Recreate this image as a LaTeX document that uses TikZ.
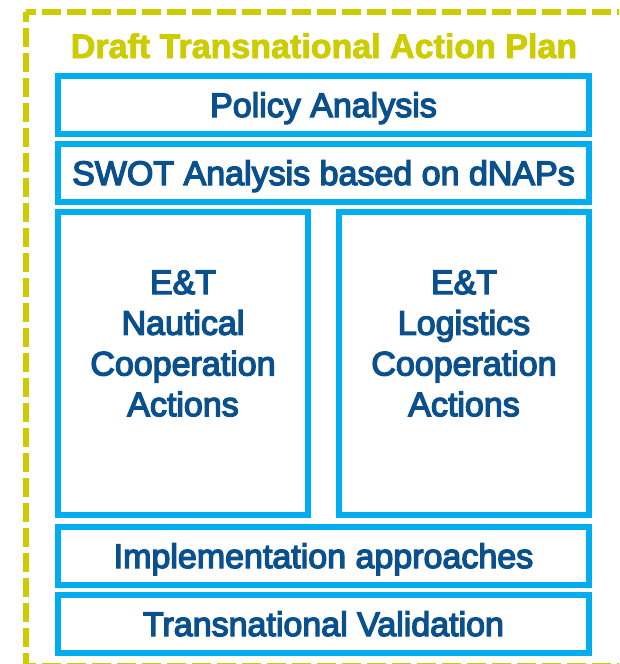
\documentclass[tikz,border=0pt]{standalone}
\usepackage{fontspec}
\setmainfont{Liberation Sans}
\newfontface\boxfont{Liberation Sans}[RawFeature={embolden=4}]
\newfontface\headfont{Liberation Sans Bold}[RawFeature={embolden=2.5}]
\usetikzlibrary{positioning}
\definecolor{planyellow}{RGB}{204,204,0}
\definecolor{barblue}{RGB}{0,174,239}
\definecolor{inkblue}{RGB}{10,80,140}
\tikzset{
  draft/.style={draw=planyellow,line width=6.5pt,dash pattern=on 19pt off 6pt,dash phase=9pt},
  headline/.style={text=planyellow,anchor=base,inner sep=0pt,font=\headfont\fontsize{34}{40}\selectfont},
  bar/.style={draw=barblue,line width=6pt,minimum width=531pt,minimum height=58pt,inner sep=0pt,
    text=inkblue,text height=24pt,text depth=0pt,font=\boxfont\fontsize{34}{40}\selectfont},
  tall/.style={draw=barblue,line width=6pt,minimum width=250pt,minimum height=303pt,inner sep=0pt},
  stack/.style={text=inkblue,align=center,inner sep=0pt,font=\boxfont\fontsize{34}{40.7}\selectfont}
}
\begin{document}
\begin{tikzpicture}[x=1pt,y=-1pt]
\useasboundingbox (0,0) rectangle (619,664);
\clip (0,0) rectangle (619,664);
\coordinate (corner) at (26,12);
\coordinate (low) at (26,666);
\draw[draft] (corner) -- (26,700);
\draw[draft] (corner) -- (700,12);
\draw[draft] (low) -- (700,666);
\node[headline] (head) at (324,58) {Draft Transnational Action Plan};
\node[bar] (policy) at (323.5,105) {Policy Analysis};
\node[bar,below=4pt of policy] (swot) {SWOT Analysis based on dNAPs};
\node[tall,below=4pt of swot.south west,anchor=north west] (naut) {};
\node[tall,below=4pt of swot.south east,anchor=north east] (logi) {};
\node[bar,below=6pt of naut.south west,anchor=north west] (impl) {Implementation approaches};
\node[bar,below=4pt of impl] (valid) {Transnational Validation};
\node[stack] (nautText) at ([yshift=20pt]naut.center) {E\&T\\Nautical\\Cooperation\\Actions};
\node[stack] (logiText) at ([yshift=20pt]logi.center) {E\&T\\Logistics\\Cooperation\\Actions};
\end{tikzpicture}
\end{document}
